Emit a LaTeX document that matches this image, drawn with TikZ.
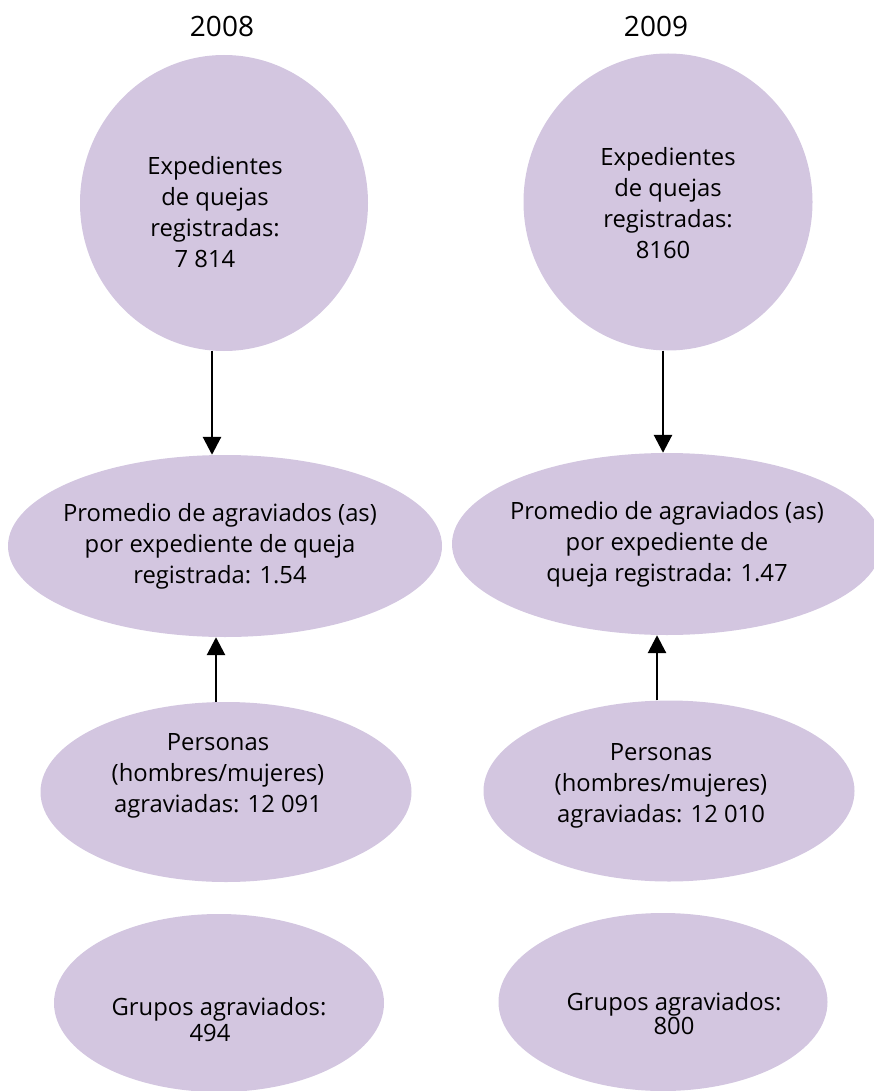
\documentclass[tikz,border=0pt]{standalone}
\usepackage{fontspec}
\setmainfont{Open Sans}
\usetikzlibrary{shapes.geometric, arrows.meta}
\definecolor{lila}{HTML}{D3C6E0}

\begin{document}
\begin{tikzpicture}[
        x=1pt, y=-1pt, % un pixel de la figura = 1pt
        burbuja/.style = {ellipse, fill=lila, inner sep=0pt}, % forma de los nodos
        texto/.style = {align=center, font=\fontsize{23.8}{31}\selectfont},
        anio/.style = {anchor=base, font=\fontsize{28}{32}\selectfont},
        flecha/.style = {line width=2.8pt, -{Triangle[length=18pt, width=18pt]}},
    ]
    \clip (0,0) rectangle (874,1091);

    % 2008
    \node[anio] (a08) at (222,37) {2008};
    \node[burbuja, minimum width=288pt, minimum height=296pt,
        label={[texto, xshift=-9pt, yshift=-9pt]center:{Expedientes\\de quejas\\registradas:\\7 814\hspace*{20pt}}}] (q08) at (224,203) {};
    \node[burbuja, minimum width=434pt, minimum height=182pt,
        label={[texto, xshift=-5pt]center:{Promedio de agraviados (as)\\por expediente de queja\\registrada: 1.54}}] (p08) at (225,546) {};
    \node[burbuja, minimum width=371pt, minimum height=180pt,
        label={[texto, xshift=-8pt, yshift=16pt]center:{Personas\\(hombres/mujeres)\\agraviadas: 12 091}}] (h08) at (226,792) {};
    \node[burbuja, minimum width=330pt, minimum height=178pt,
        label={[texto, font=\fontsize{23.8}{26}\selectfont, yshift=-17pt]center:{Grupos agraviados:\\494\hspace*{18pt}}}] (g08) at (219,1003) {};

    % 2009
    \node[anio] (a09) at (656,37) {2009};
    \node[burbuja, minimum width=289pt, minimum height=297pt,
        label={[texto, yshift=-1pt]center:{Expedientes\\de quejas\\registradas:\\8160\hspace*{10pt}}}] (q09) at (668,202) {};
    \node[burbuja, minimum width=430pt, minimum height=182pt,
        label={[texto]center:{Promedio de agraviados (as)\\por expediente de\\queja registrada: 1.47}}] (p09) at (667,544) {};
    \node[burbuja, minimum width=371pt, minimum height=181pt,
        label={[texto, xshift=-8pt, yshift=5pt]center:{Personas\\(hombres/mujeres)\\agraviadas: 12 010}}] (h09) at (669,791) {};
    \node[burbuja, minimum width=329pt, minimum height=178pt,
        label={[texto, font=\fontsize{23.8}{24}\selectfont, xshift=11pt, yshift=-12pt]center:{Grupos agraviados:\\800}}] (g09) at (663,1002) {};

    % flechas
    \draw[flecha] ([xshift=-12pt]q08.south) -- ([xshift=-12pt]q08.south |- p08.north);
    \draw[flecha] ([xshift=-10pt]h08.north) -- ([xshift=-10pt]h08.north |- p08.south);
    \draw[flecha] ([xshift=-5pt]q09.south) -- ([xshift=-5pt]q09.south |- p09.north);
    \draw[flecha] ([xshift=-12pt]h09.north) -- ([xshift=-12pt]h09.north |- p09.south);
\end{tikzpicture}
\end{document}
